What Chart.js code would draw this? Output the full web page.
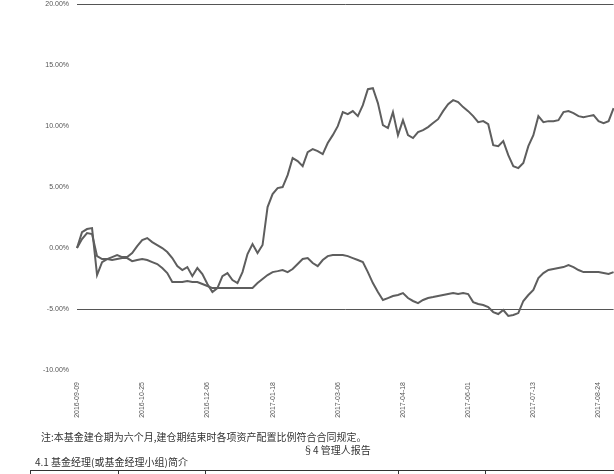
<!DOCTYPE html>
<html>
<head>
<meta charset="utf-8">
<script src="https://cdn.jsdelivr.net/npm/chart.js@4.4.0/dist/chart.umd.min.js"></script>
<style>
  body { margin: 0; background: #fff; width: 614px; height: 474px; overflow: hidden; position: relative; font-family: "Noto Sans CJK SC", sans-serif; color: #333; }
  #wrap { position: absolute; left: 0; top: 0; width: 614px; height: 430px; overflow: hidden; }
  #navChart { position: absolute; left: 0; top: -8px; }
  .txt { position: absolute; font-size: 10px; line-height: 12px; white-space: nowrap; }
  .tbl { position: absolute; left: 30px; top: 470px; width: 600px; height: 10px; border-top: 1px solid #333; }
  .vl { position: absolute; top: 470px; width: 1px; height: 10px; background: #333; }
</style>
</head>
<body>
<div id="wrap"><canvas id="navChart" width="626" height="438"></canvas></div>
<div class="txt" style="left:41px; top:431px;">注:本基金建仓期为六个月,建仓期结束时各项资产配置比例符合合同规定。</div>
<div class="txt" style="left:303px; top:444px;">§4 管理人报告</div>
<div class="txt" style="left:35px; top:456px;">4.1 基金经理(或基金经理小组)简介</div>
<div class="tbl"></div>
<div class="vl" style="left:30px"></div>
<div class="vl" style="left:118px"></div>
<div class="vl" style="left:205px"></div>
<div class="vl" style="left:398px"></div>
<div class="vl" style="left:485px"></div>
<script>
// tick labels shown under the x axis, one every 13 points
const tickDates = ['2016-09-09', '2016-10-25', '2016-12-06', '2017-01-18', '2017-03-06',
                   '2017-04-18', '2017-06-01', '2017-07-13', '2017-08-24'];
const tickEvery = 13;

// cumulative return of the fund, %
const fundReturn = [0, 1.31, 1.56, 1.64, -2.21, -1.15, -0.90, -0.74, -0.57, -0.74,
  -0.74, -0.41, 0.16, 0.66, 0.82, 0.49, 0.25, 0, -0.33, -0.82,
  -1.48, -1.80, -1.56, -2.30, -1.64, -2.13, -2.95, -3.61, -3.28, -2.30,
  -2.05, -2.62, -2.87, -1.97, -0.49, 0.33, -0.41, 0.25, 3.36, 4.43,
  4.92, 5.00, 5.98, 7.38, 7.13, 6.72, 7.87, 8.11, 7.95, 7.70,
  8.61, 9.26, 10.00, 11.15, 10.98, 11.23, 10.82, 11.72, 13.03, 13.11,
  11.89, 10.08, 9.84, 11.15, 9.26, 10.49, 9.26, 9.02, 9.51, 9.67,
  9.92, 10.25, 10.57, 11.23, 11.80, 12.13, 11.97, 11.56, 11.23, 10.82,
  10.33, 10.41, 10.16, 8.44, 8.36, 8.77, 7.62, 6.72, 6.56, 6.97,
  8.36, 9.26, 10.82, 10.33, 10.41, 10.41, 10.49, 11.15, 11.23, 11.07,
  10.82, 10.74, 10.82, 10.90, 10.41, 10.25, 10.41, 11.48];

// cumulative return of the benchmark, %
const benchReturn = [0, 0.74, 1.23, 1.15, -0.66, -0.90, -0.90, -0.98, -0.90, -0.82,
  -0.82, -1.07, -0.98, -0.90, -0.98, -1.15, -1.31, -1.64, -2.05, -2.79,
  -2.79, -2.79, -2.70, -2.79, -2.79, -2.95, -3.11, -3.28, -3.28, -3.28,
  -3.28, -3.28, -3.28, -3.28, -3.28, -3.28, -2.87, -2.54, -2.21, -1.97,
  -1.89, -1.80, -1.97, -1.72, -1.31, -0.90, -0.82, -1.23, -1.48, -0.98,
  -0.66, -0.57, -0.57, -0.57, -0.66, -0.82, -0.98, -1.15, -1.97, -2.87,
  -3.61, -4.26, -4.10, -3.93, -3.85, -3.69, -4.10, -4.34, -4.51, -4.26,
  -4.10, -4.02, -3.93, -3.85, -3.77, -3.69, -3.77, -3.69, -3.77, -4.43,
  -4.59, -4.67, -4.84, -5.25, -5.41, -5.08, -5.57, -5.49, -5.33, -4.34,
  -3.85, -3.44, -2.46, -2.05, -1.80, -1.72, -1.64, -1.56, -1.39, -1.56,
  -1.80, -1.97, -1.97, -1.97, -1.97, -2.05, -2.13, -1.97];

const yTicks = { min: -10, max: 20, step: 5 };
const ruledLines = [20, -5];

const categories = fundReturn.map((_, i) => i);
const lineColor = '#5e5e5e';

new Chart(document.getElementById('navChart').getContext('2d'), {
  type: 'line',
  data: {
    labels: categories,
    datasets: [
      { label: 'fund', data: fundReturn, borderColor: lineColor, borderWidth: 2, pointRadius: 0, tension: 0 },
      { label: 'benchmark', data: benchReturn, borderColor: lineColor, borderWidth: 2, pointRadius: 0, tension: 0 }
    ]
  },
  options: {
    responsive: false,
    animation: false,
    plugins: { legend: { display: false }, tooltip: { enabled: false } },
    scales: {
      x: {
        offset: false,
        grid: { display: false },
        border: { display: false },
        afterFit: s => { s.height = 60; },
        ticks: {
          autoSkip: false,
          minRotation: 90,
          maxRotation: 90,
          padding: 4,
          color: '#555',
          font: { family: 'Liberation Sans', size: 7 },
          callback: (v, i) => (i % tickEvery === 0 ? tickDates[i / tickEvery] : '')
        }
      },
      y: {
        min: yTicks.min,
        max: yTicks.max,
        border: { display: false },
        afterFit: s => { s.width = 77; },
        grid: {
          drawTicks: false,
          lineWidth: 1,
          color: c => (ruledLines.includes(c.tick.value) ? '#555' : 'rgba(0,0,0,0)')
        },
        ticks: {
          stepSize: yTicks.step,
          padding: 8,
          color: '#555',
          font: { family: 'Liberation Sans', size: 7 },
          callback: v => v.toFixed(2) + '%'
        }
      }
    }
  }
});
</script>
</body>
</html>
